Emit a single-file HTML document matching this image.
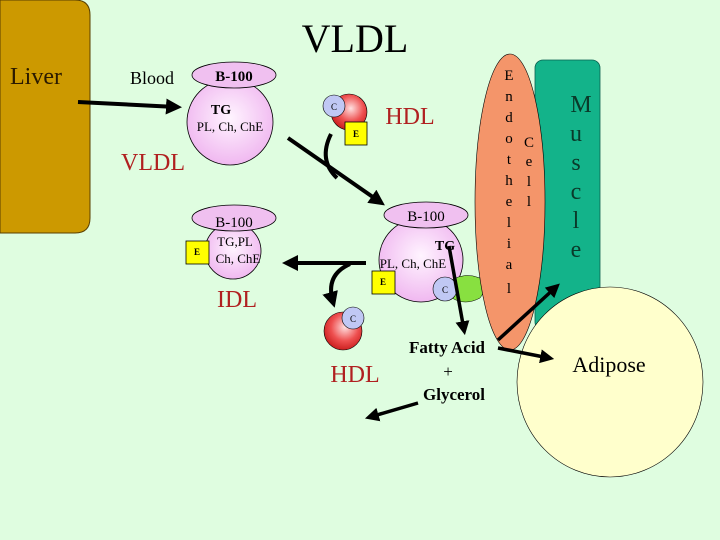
<!DOCTYPE html>
<html><head><style>
html,body{margin:0;padding:0;background:#dffde0;}
svg{display:block;}
text{font-family:"Liberation Serif",serif;}
</style></head><body>
<svg width="720" height="540" viewBox="0 0 720 540" xmlns="http://www.w3.org/2000/svg">
<defs>
<radialGradient id="pk" cx="50%" cy="45%" r="55%"><stop offset="0" stop-color="#fff4ff"/><stop offset="1" stop-color="#f0b8f0"/></radialGradient>
<radialGradient id="rd" cx="55%" cy="40%" r="60%"><stop offset="0" stop-color="#ffe0e0"/><stop offset="0.6" stop-color="#ee5050"/><stop offset="1" stop-color="#cc2020"/></radialGradient>
<marker id="ah" markerWidth="4" markerHeight="4" refX="2.5" refY="2" orient="auto" markerUnits="strokeWidth"><path d="M0,0 L4,2 L0,4 Z" fill="#000"/></marker>
</defs>
<rect width="720" height="540" fill="#dffde0"/>
<path d="M0,0 H75 Q90,0 90,15 V218 Q90,233 75,233 H0 Z" fill="#cc9900" stroke="#5a4000" stroke-width="1"/>
<text x="36" y="84" font-size="24" text-anchor="middle" fill="#2a1a00">Liver</text>
<text x="355" y="52" font-size="40" text-anchor="middle">VLDL</text>
<text x="152" y="84" font-size="18" text-anchor="middle">Blood</text>
<line x1="78" y1="102" x2="176" y2="107" stroke="#000" stroke-width="4" marker-end="url(#ah)"/>
<circle cx="230" cy="122" r="43" fill="url(#pk)" stroke="#000" stroke-width="0.8"/>
<ellipse cx="234" cy="75" rx="42" ry="13" fill="#f0c0f0" stroke="#000" stroke-width="0.8"/>
<text x="234" y="81" font-size="15" font-weight="bold" text-anchor="middle">B-100</text>
<text x="221" y="114" font-size="14" font-weight="bold" text-anchor="middle">TG</text>
<text x="230" y="131" font-size="13" text-anchor="middle">PL, Ch, ChE</text>
<text x="153" y="170" font-size="24" text-anchor="middle" fill="#b02020">VLDL</text>
<circle cx="349" cy="112" r="18" fill="url(#rd)" stroke="#000" stroke-width="0.6"/>
<circle cx="334" cy="106" r="11" fill="#c0c8f4" stroke="#000" stroke-width="0.6"/>
<text x="334" y="110" font-size="9" text-anchor="middle" font-family="Liberation Mono">C</text>
<rect x="345" y="122" width="22" height="23" fill="#ffff00" stroke="#000" stroke-width="0.8"/>
<text x="356" y="137" font-size="9" font-weight="bold" text-anchor="middle" font-family="Liberation Mono">E</text>
<text x="410" y="124" font-size="24" text-anchor="middle" fill="#b02020">HDL</text>
<line x1="288" y1="138" x2="380" y2="202" stroke="#000" stroke-width="4" marker-end="url(#ah)"/>
<path d="M331,134 Q318,160 337,178" fill="none" stroke="#000" stroke-width="4"/>
<circle cx="233" cy="251" r="28" fill="url(#pk)" stroke="#000" stroke-width="0.8"/>
<ellipse cx="234" cy="218" rx="42" ry="13" fill="#f0c0f0" stroke="#000" stroke-width="0.8"/>
<text x="234" y="227" font-size="15" text-anchor="middle">B-100</text>
<rect x="186" y="241" width="23" height="23" fill="#ffff00" stroke="#000" stroke-width="0.8"/>
<text x="197" y="255" font-size="9" font-weight="bold" text-anchor="middle" font-family="Liberation Mono">E</text>
<text x="235" y="246" font-size="13" text-anchor="middle">TG,PL</text>
<text x="238" y="263" font-size="13" text-anchor="middle">Ch, ChE</text>
<text x="237" y="307" font-size="24" text-anchor="middle" fill="#b02020">IDL</text>
<circle cx="421" cy="260" r="42" fill="url(#pk)" stroke="#000" stroke-width="0.8"/>
<ellipse cx="426" cy="215" rx="42" ry="13" fill="#f0c0f0" stroke="#000" stroke-width="0.8"/>
<text x="426" y="221" font-size="15" text-anchor="middle">B-100</text>
<text x="445" y="250" font-size="14" font-weight="bold" text-anchor="middle">TG</text>
<text x="413" y="268" font-size="13" text-anchor="middle">PL, Ch, ChE</text>
<rect x="372" y="271" width="23" height="23" fill="#ffff00" stroke="#000" stroke-width="0.8"/>
<text x="383" y="285" font-size="9" font-weight="bold" text-anchor="middle" font-family="Liberation Mono">E</text>
<path d="M452,280 Q465,272 480,278 Q488,288 480,298 Q465,306 452,298 Q460,289 452,280 Z" fill="#88e040" stroke="#000" stroke-width="0.5"/>
<circle cx="445" cy="289" r="12" fill="#c0c8f4" stroke="#000" stroke-width="0.6"/>
<text x="445" y="293" font-size="9" text-anchor="middle" font-family="Liberation Mono">C</text>
<line x1="366" y1="263" x2="288" y2="263" stroke="#000" stroke-width="4" marker-end="url(#ah)"/>
<path d="M350,264 Q325,275 333,302" fill="none" stroke="#000" stroke-width="4" marker-end="url(#ah)"/>
<circle cx="343" cy="331" r="19" fill="url(#rd)" stroke="#000" stroke-width="0.6"/>
<circle cx="353" cy="318" r="11" fill="#c0c8f4" stroke="#000" stroke-width="0.6"/>
<text x="353" y="322" font-size="9" text-anchor="middle" font-family="Liberation Mono">C</text>
<text x="355" y="382" font-size="24" text-anchor="middle" fill="#b02020">HDL</text>
<rect x="535" y="60" width="65" height="270" rx="8" fill="#13b38a" stroke="#0a6050" stroke-width="0.8"/>
<g font-size="24" fill="#0a3a2a" text-anchor="middle">
<text x="581" y="112">M</text><text x="576" y="141">u</text><text x="576" y="170">s</text><text x="576" y="199">c</text><text x="576" y="228">l</text><text x="576" y="257">e</text></g>
<ellipse cx="610" cy="382" rx="93" ry="95" fill="#ffffcc" stroke="#000" stroke-width="0.6"/>
<ellipse cx="510" cy="202" rx="35" ry="148" fill="#f4956a" stroke="#000" stroke-width="0.6"/>
<g font-size="15" text-anchor="middle" fill="#000">
<text x="509" y="80">E</text><text x="509" y="101">n</text><text x="509" y="122">d</text><text x="509" y="143">o</text><text x="509" y="164">t</text><text x="509" y="185">h</text><text x="509" y="206">e</text><text x="509" y="227">l</text><text x="509" y="248">i</text><text x="509" y="269">a</text><text x="509" y="293">l</text>
<text x="529" y="147">C</text><text x="529" y="166">e</text><text x="529" y="186">l</text><text x="529" y="206">l</text></g>
<text x="609" y="372" font-size="22" text-anchor="middle">Adipose</text>
<text x="447" y="353" font-size="17" font-weight="bold" text-anchor="middle">Fatty Acid</text>
<text x="448" y="377" font-size="17" text-anchor="middle">+</text>
<text x="454" y="400" font-size="17" font-weight="bold" text-anchor="middle">Glycerol</text>
<line x1="449" y1="246" x2="464" y2="330" stroke="#000" stroke-width="3.5" marker-end="url(#ah)"/>
<line x1="498" y1="340" x2="556" y2="287" stroke="#000" stroke-width="3.5" marker-end="url(#ah)"/>
<line x1="498" y1="348" x2="549" y2="358" stroke="#000" stroke-width="3.5" marker-end="url(#ah)"/>
<line x1="418" y1="403" x2="370" y2="417" stroke="#000" stroke-width="3.5" marker-end="url(#ah)"/>
</svg>
</body></html>
